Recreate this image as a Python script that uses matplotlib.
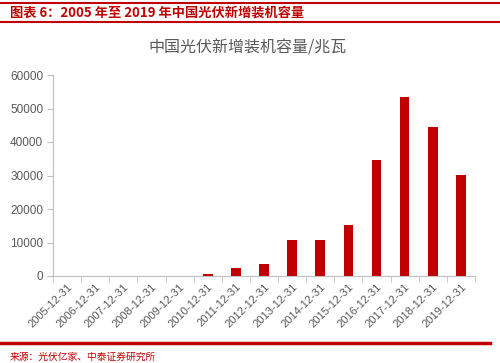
import matplotlib
matplotlib.use("Agg")
import matplotlib.pyplot as plt
import numpy as np

plt.rcParams['font.family'] = ['Liberation Sans', 'Noto Sans CJK SC', 'DejaVu Sans']

categories = ["2005-12-31", "2006-12-31", "2007-12-31", "2008-12-31", "2009-12-31",
              "2010-12-31", "2011-12-31", "2012-12-31", "2013-12-31", "2014-12-31",
              "2015-12-31", "2016-12-31", "2017-12-31", "2018-12-31", "2019-12-31"]
values = [0, 0, 0, 0, 0, 500, 2500, 3500, 10800, 10650, 15300, 34700, 53400, 44500, 30100]
yticks = [0, 10000, 20000, 30000, 40000, 50000, 60000]

header = "图表 6：2005 年至 2019 年中国光伏新增装机容量"
title = "中国光伏新增装机容量/兆瓦"
source = "来源：光伏亿家、中泰证券研究所"

W, H = 500, 363
fig = plt.figure(figsize=(W / 100, H / 100), dpi=100)
red = "#C00000"
gray = "#595959"

# header lines and text
fig.add_artist(plt.Line2D([0, 1], [1 - 3 / H, 1 - 3 / H], color=red, lw=1.5))
fig.add_artist(plt.Line2D([0, 1], [1 - 22 / H, 1 - 22 / H], color=red, lw=1.5))
fig.text(10 / W, 1 - 13 / H, header, color=red, fontsize=9.5, fontweight='bold',
         va='center', ha='left', family=['Noto Sans CJK SC', 'DejaVu Sans'])
fig.text(248 / W, 1 - 48 / H, title, color=gray, fontsize=11.5,
         va='center', ha='center', family=['Noto Sans CJK SC', 'DejaVu Sans'])

# footer
fig.add_artist(plt.Line2D([0, 0.98], [1 - 343 / H, 1 - 343 / H], color=red, lw=2.5))
fig.text(10 / W, 1 - 357 / H, source, color=red, fontsize=7,
         va='center', ha='left', family=['Noto Sans CJK SC', 'DejaVu Sans'])

left, right = 53 / W, 475 / W
bottom, top = 1 - 276 / H, 1 - 75 / H
ax = fig.add_axes([left, bottom, right - left, top - bottom])
x = np.arange(len(categories))
ax.bar(x, values, width=0.34, color=red)
ax.set_xlim(-0.5, len(categories) - 0.5)
ax.set_ylim(0, 60000)
ax.set_yticks(yticks)
ax.set_yticklabels([str(v) for v in yticks], color=gray, fontsize=8.5)
ax.set_xticks(x)
ax.set_xticklabels(categories, rotation=45, ha='right', rotation_mode='anchor',
                   color=gray, fontsize=8)
ax.tick_params(axis='x', length=0, pad=4)
ax.set_xticks(np.arange(-0.5, len(categories)), minor=True)
ax.tick_params(axis='x', which='minor', length=4, color='#BFBFBF', direction='out')
ax.tick_params(axis='y', length=4, color='#BFBFBF', direction='out', pad=3)
for s in ['top', 'right']:
    ax.spines[s].set_visible(False)
for s in ['left', 'bottom']:
    ax.spines[s].set_color('#BFBFBF')
    ax.spines[s].set_linewidth(0.8)

fig.savefig("out.png", dpi=100)
